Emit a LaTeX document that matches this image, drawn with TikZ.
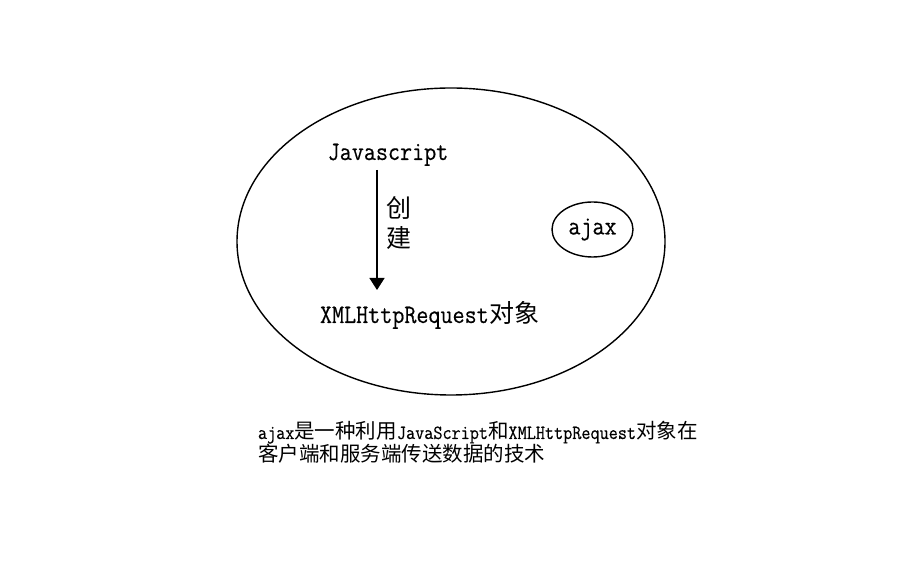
\documentclass[tikz,border=0pt]{standalone}
\usepackage{fontspec}
\newfontfamily\cjkf{Noto Sans CJK SC}
\newfontfamily\ttx{Latin Modern Mono}[FakeStretch=0.88,FakeBold=0.4]
\usetikzlibrary{shapes.geometric,arrows.meta}
\newcommand{\bigtt}{\ttx\fontsize{26.6}{28}\selectfont}
\newcommand{\bigcj}{\cjkf\fontsize{25}{28}\selectfont}
\newcommand{\smtt}{\ttx\fontsize{20.1}{22}\selectfont}
\newcommand{\smcj}{\cjkf\fontsize{20.5}{22}\selectfont}
\begin{document}
\begin{tikzpicture}[x=1pt,y=1pt,
  ell/.style={draw,ellipse,line width=1.4pt,inner sep=0pt},
  lbl/.style={inner sep=0pt,outer sep=0pt}]
\useasboundingbox (0,0) rectangle (912,567);
\node[ell,minimum width=428pt,minimum height=307pt] (outer) at (451,325.5) {};
\node[ell,minimum width=81pt,minimum height=55pt] (ajax) at (592.5,337.5) {\bigtt ajax};
\node[lbl,anchor=base] (js) at (388,407) {\bigtt Javascript};
\node[lbl,anchor=base west] (xhr) at (320,244) {\bigtt XMLHttpRequest\hspace{1pt}{\bigcj 对象}};
\node[lbl] (cj1) at (399,359) {\bigcj 创};
\node[lbl] (cj2) at (399,329) {\bigcj 建};
\coordinate (arrS) at (377,397);
\coordinate (arrE) at (377,277);
\draw[line width=1.4pt,-{Triangle[width=15pt,length=12pt]}] (arrS) -- (arrE);
\node[lbl,anchor=base west] (desc1) at (258,128) {\smtt ajax{\smcj 是一种利用}JavaScript{\smcj 和}XMLHttpRequest{\smcj 对象在}};
\node[lbl,anchor=base west] (desc2) at (258,105) {\smcj 客户端和服务端传送数据的技术};
\end{tikzpicture}
\end{document}
